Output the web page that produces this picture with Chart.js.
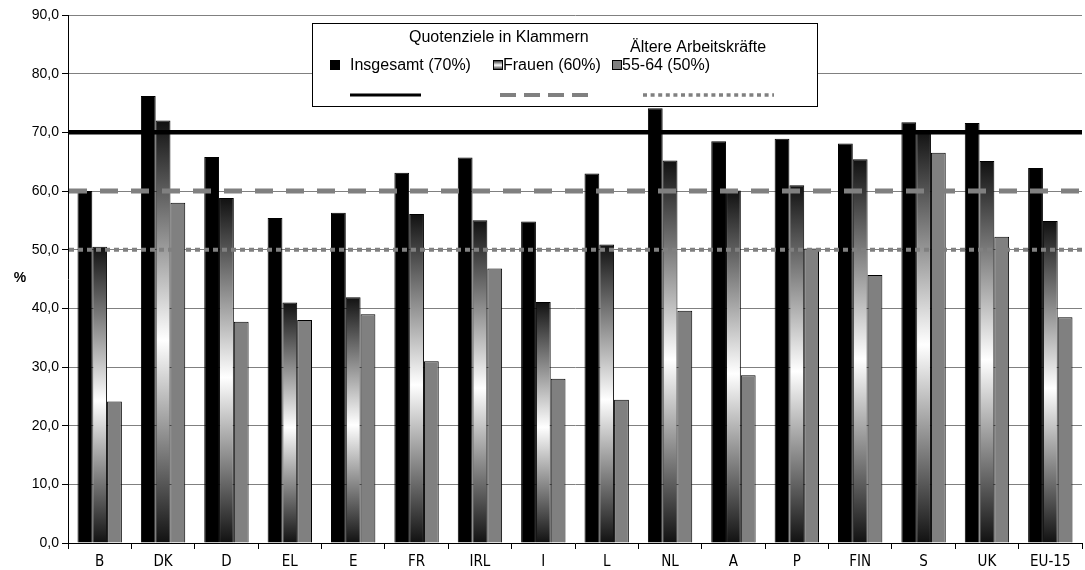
<!DOCTYPE html>
<html>
<head>
<meta charset="utf-8">
<style>
  html, body { margin: 0; padding: 0; background: #fff; }
  #wrap { width: 1085px; height: 570px; position: relative; }
</style>
</head>
<body>
<div id="wrap"><canvas id="chart"></canvas></div>

<script src="https://cdn.jsdelivr.net/npm/chart.js"></script>

<script>
// data
const countries = ['B', 'DK', 'D', 'EL', 'E', 'FR', 'IRL', 'I', 'L', 'NL', 'A', 'P', 'FIN', 'S', 'UK', 'EU-15'];
const insgesamt = [60.0, 76.2, 65.8, 55.4, 56.3, 63.1, 65.7, 54.8, 63.0, 74.1, 68.5, 68.9, 68.1, 71.7, 71.6, 63.9];
const frauen    = [50.5, 72.0, 58.8, 41.0, 41.9, 56.1, 55.0, 41.1, 50.9, 65.2, 60.1, 61.0, 65.4, 70.4, 65.1, 54.9];
const aeltere   = [24.1, 58.0, 37.7, 38.0, 39.0, 31.0, 46.8, 28.0, 24.4, 39.6, 28.6, 50.2, 45.7, 66.5, 52.2, 38.5];
const targets = [70, 60, 50];   // Insgesamt, Frauen, 55-64

const FONT = "'Liberation Sans', Arial, sans-serif";
const NARROW = "'Liberation Sans Narrow', 'DejaVu Sans Condensed', 'Liberation Sans', Arial, sans-serif";

function barGradient(ctx, top, bottom) {
    const g = ctx.createLinearGradient(0, top, 0, bottom);
    g.addColorStop(0, '#111');
    g.addColorStop(0.52, '#fff');
    g.addColorStop(1, '#111');
    return g;
}

// target lines over the bars
const targetLines = {
    id: 'targetLines',
    afterDatasetsDraw(chart) {
        const { ctx, chartArea, scales } = chart;
        const styles = [
            { color: '#000', width: 4.5, dash: [] },
            { color: '#808080', width: 5, dash: [18, 13] },
            { color: '#808080', width: 4, dash: [5, 4] }
        ];
        ctx.save();
        targets.forEach((t, i) => {
            const y = scales.y.getPixelForValue(t);
            ctx.beginPath();
            ctx.strokeStyle = styles[i].color;
            ctx.lineWidth = styles[i].width;
            ctx.setLineDash(styles[i].dash);
            ctx.moveTo(chartArea.left + 1, y);
            ctx.lineTo(chartArea.right, y);
            ctx.stroke();
        });
        ctx.restore();
    }
};

// the boxed legend and the "%" label
const legendBox = {
    id: 'legendBox',
    afterDraw(chart) {
        const ctx = chart.ctx;
        ctx.save();
        ctx.fillStyle = '#fff';
        ctx.fillRect(312, 23, 506, 84);
        ctx.strokeStyle = '#000';
        ctx.lineWidth = 1;
        ctx.strokeRect(312.5, 23.5, 505, 83);

        ctx.fillStyle = '#000';
        ctx.font = '16px ' + FONT;
        ctx.textBaseline = 'middle';
        ctx.textAlign = 'left';
        ctx.fillText('Quotenziele in Klammern', 409, 38);
        ctx.fillText('Ältere Arbeitskräfte', 630, 48);
        ctx.fillText('Insgesamt (70%)', 350, 66);
        ctx.fillText('Frauen (60%)', 503, 66);
        ctx.fillText('55-64 (50%)', 622, 66);

        // squares
        ctx.fillStyle = '#000';
        ctx.fillRect(330, 60, 10, 10);
        ctx.fillStyle = barGradient(ctx, 60, 70);
        ctx.fillRect(493, 60, 10, 10);
        ctx.strokeRect(493.5, 60.5, 9, 9);
        ctx.fillStyle = '#808080';
        ctx.fillRect(612, 60, 10, 10);
        ctx.strokeRect(612.5, 60.5, 9, 9);

        // line samples
        ctx.beginPath();
        ctx.lineWidth = 3;
        ctx.strokeStyle = '#000';
        ctx.moveTo(350, 95); ctx.lineTo(421, 95);
        ctx.stroke();
        ctx.beginPath();
        ctx.lineWidth = 4;
        ctx.strokeStyle = '#808080';
        ctx.setLineDash([16, 8]);
        ctx.moveTo(500, 95); ctx.lineTo(588, 95);
        ctx.stroke();
        ctx.beginPath();
        ctx.lineWidth = 3.5;
        ctx.setLineDash([4, 3.6]);
        ctx.moveTo(643, 95); ctx.lineTo(774, 95);
        ctx.stroke();
        ctx.setLineDash([]);

        ctx.fillStyle = '#000';
        ctx.font = 'bold 14px ' + FONT;
        ctx.textAlign = 'center';
        ctx.fillText('%', 20, 278);
        ctx.restore();
    }
};

const ctx = document.getElementById('chart').getContext('2d');
new Chart(ctx, {
    type: 'bar',
    data: {
        labels: countries,
        datasets: [
            {
                label: 'Insgesamt (70%)',
                data: insgesamt,
                backgroundColor: '#000',
                borderColor: '#000',
                borderWidth: 1
            },
            {
                label: 'Frauen (60%)',
                data: frauen,
                backgroundColor: function(c) {
                    const chart = c.chart;
                    if (!chart.chartArea || c.type !== 'data') return '#888';
                    const top = chart.scales.y.getPixelForValue(c.raw);
                    const bottom = chart.scales.y.getPixelForValue(0);
                    return barGradient(chart.ctx, top, bottom);
                },
                borderColor: '#000',
                borderWidth: 1
            },
            {
                label: '55-64 (50%)',
                data: aeltere,
                backgroundColor: '#808080',
                borderColor: '#000',
                borderWidth: 1
            }
        ]
    },
    options: {
        responsive: true,
        maintainAspectRatio: false,
        devicePixelRatio: 1,
        animation: false,
        layout: { padding: { left: 0, right: 3, top: 15, bottom: 0 } },
        datasets: {
            bar: { categoryPercentage: 0.7, barPercentage: 1.0 }
        },
        plugins: {
            legend: { display: false },
            tooltip: { enabled: false }
        },
        scales: {
            x: {
                afterFit(scale) { scale.height = 27; },
                grid: {
                    offset: true,
                    drawOnChartArea: false,
                    tickLength: 6,
                    color: '#000'
                },
                border: { color: '#000', width: 1 },
                ticks: {
                    color: '#000',
                    padding: 4,
                    font: { family: NARROW, size: 15 }
                }
            },
            y: {
                min: 0,
                max: 90,
                afterFit(scale) { scale.width = 68; },
                grid: {
                    color: '#808080',
                    tickColor: '#000',
                    tickLength: 6,
                    lineWidth: 1
                },
                border: { color: '#000', width: 1 },
                ticks: {
                    stepSize: 10,
                    color: '#000',
                    padding: 3,
                    font: { family: FONT, size: 14 },
                    callback: v => v.toFixed(1).replace('.', ',')
                }
            }
        }
    },
    plugins: [targetLines, legendBox]
});
</script>
</body>
</html>
